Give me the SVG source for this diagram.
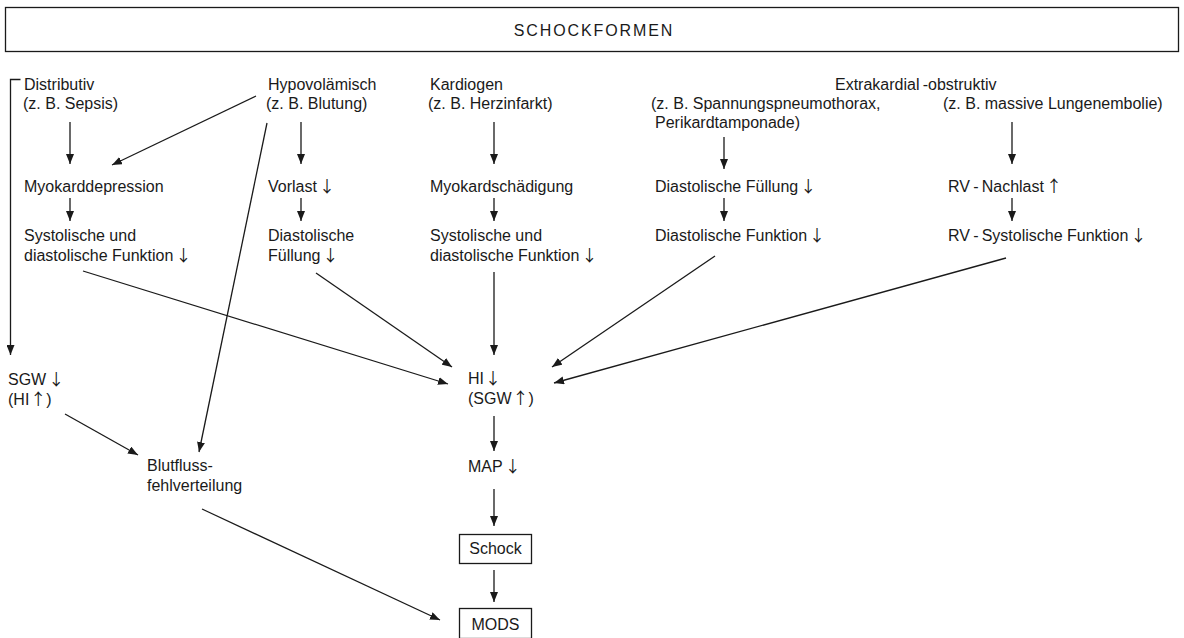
<svg xmlns="http://www.w3.org/2000/svg" width="1184" height="638" viewBox="0 0 1184 638">
  <style>
    text { font-family: "Liberation Sans", Arial, sans-serif; font-size: 16px; fill: #1a1a1a; }
    .ar { font-family: "Noto Sans CJK SC", "DejaVu Sans", sans-serif; font-size: 16px; }
    .title { font-size: 16px; letter-spacing: 1.9px; text-anchor: middle; }
    .mid { text-anchor: middle; }
    .box { fill: #fff; stroke: #1a1a1a; stroke-width: 1.3; }
    .conn path { fill: none; stroke: #1a1a1a; stroke-width: 1.3; }
  </style>
  <defs>
    <marker id="arrow" viewBox="0 0 10 8" refX="10" refY="4" markerWidth="10" markerHeight="8" markerUnits="userSpaceOnUse" orient="auto">
      <path d="M0,0 L10,4 L0,8 z" fill="#1a1a1a"/>
    </marker>
  </defs>
  <rect width="1184" height="638" fill="#fff"/>

  <!-- header -->
  <g id="schockformen">
    <rect class="box" x="5.5" y="7.5" width="1173" height="44"/>
    <text class="title" x="594" y="36">SCHOCKFORMEN</text>
  </g>

  <!-- shock types -->
  <g id="distributiv">
    <text x="24" y="90">Distributiv</text>
    <text x="23" y="109">(z. B. Sepsis)</text>
  </g>
  <g id="hypovolaemisch">
    <text x="268" y="90">Hypovolämisch</text>
    <text x="266" y="109">(z. B. Blutung)</text>
  </g>
  <g id="kardiogen">
    <text x="430" y="90">Kardiogen</text>
    <text x="428" y="109">(z. B. Herzinfarkt)</text>
  </g>
  <g id="extrakardial">
    <text x="835" y="90">Extrakardial&#8201;-obstruktiv</text>
  </g>
  <g id="spannungspneumothorax">
    <text x="651" y="109">(z. B. Spannungspneumothorax,</text>
    <text x="655" y="128">Perikardtamponade)</text>
  </g>
  <g id="lungenembolie">
    <text x="943" y="109">(z. B. massive Lungenembolie)</text>
  </g>

  <!-- intermediate effects -->
  <g id="myokarddepression">
    <text x="24" y="192">Myokarddepression</text>
  </g>
  <g id="funktion-distributiv">
    <text x="24" y="241">Systolische und</text>
    <text x="24" y="261">diastolische Funktion<tspan class="ar" dx="2">↓</tspan></text>
  </g>
  <g id="vorlast">
    <text x="268" y="192">Vorlast<tspan class="ar" dx="2">↓</tspan></text>
  </g>
  <g id="fuellung-hypovolaemisch">
    <text x="268" y="241">Diastolische</text>
    <text x="268" y="261">Füllung<tspan class="ar" dx="2">↓</tspan></text>
  </g>
  <g id="myokardschaedigung">
    <text x="430" y="192">Myokardschädigung</text>
  </g>
  <g id="funktion-kardiogen">
    <text x="430" y="241">Systolische und</text>
    <text x="430" y="261">diastolische Funktion<tspan class="ar" dx="2">↓</tspan></text>
  </g>
  <g id="fuellung-extrakardial">
    <text x="655" y="192">Diastolische Füllung<tspan class="ar" dx="2">↓</tspan></text>
  </g>
  <g id="funktion-extrakardial">
    <text x="655" y="241">Diastolische Funktion<tspan class="ar" dx="2">↓</tspan></text>
  </g>
  <g id="rv-nachlast">
    <text x="948" y="192">RV&#8201;-&#8201;Nachlast<tspan class="ar" dx="2">↑</tspan></text>
  </g>
  <g id="rv-funktion">
    <text x="948" y="241">RV&#8201;-&#8201;Systolische Funktion<tspan class="ar" dx="2">↓</tspan></text>
  </g>

  <!-- hemodynamics and outcome -->
  <g id="sgw">
    <text x="8" y="385">SGW<tspan class="ar" dx="2">↓</tspan></text>
    <text x="8" y="405">(HI<tspan class="ar" dx="1">↑</tspan>)</text>
  </g>
  <g id="hi">
    <text x="468" y="384">HI<tspan class="ar" dx="1">↓</tspan></text>
    <text x="468" y="404">(SGW<tspan class="ar" dx="1">↑</tspan>)</text>
  </g>
  <g id="blutfluss">
    <text x="147" y="471">Blutfluss-</text>
    <text x="147" y="491">fehlverteilung</text>
  </g>
  <g id="map">
    <text x="468" y="472">MAP<tspan class="ar" dx="2">↓</tspan></text>
  </g>
  <g id="schock">
    <rect class="box" x="459.5" y="534.5" width="72" height="29"/>
    <text class="mid" x="495.5" y="554">Schock</text>
  </g>
  <g id="mods">
    <rect class="box" x="459.5" y="608.5" width="72" height="30"/>
    <text class="mid" x="495.5" y="630">MODS</text>
  </g>

  <!-- connectors -->
  <g id="connectors" class="conn">
    <path d="M20.5,79.5 H10.5 V355" marker-end="url(#arrow)"/>
    <path d="M70,122 V164" marker-end="url(#arrow)"/>
    <path d="M256,96 L112,165" marker-end="url(#arrow)"/>
    <path d="M267,123 L199,452" marker-end="url(#arrow)"/>
    <path d="M301,122 V164" marker-end="url(#arrow)"/>
    <path d="M70,198 V221" marker-end="url(#arrow)"/>
    <path d="M301,198 V221" marker-end="url(#arrow)"/>
    <path d="M494,122 V164" marker-end="url(#arrow)"/>
    <path d="M494,198 V221" marker-end="url(#arrow)"/>
    <path d="M724,137 V169" marker-end="url(#arrow)"/>
    <path d="M724,198 V221" marker-end="url(#arrow)"/>
    <path d="M1012,122 V164" marker-end="url(#arrow)"/>
    <path d="M1012,198 V221" marker-end="url(#arrow)"/>
    <path d="M83,271 L448,384" marker-end="url(#arrow)"/>
    <path d="M316,273 L452,367" marker-end="url(#arrow)"/>
    <path d="M494,272 V355" marker-end="url(#arrow)"/>
    <path d="M715,256 L552,367" marker-end="url(#arrow)"/>
    <path d="M1006,258 L554,383" marker-end="url(#arrow)"/>
    <path d="M65,414 L138,455" marker-end="url(#arrow)"/>
    <path d="M202,509 L440,620" marker-end="url(#arrow)"/>
    <path d="M494,416 V451" marker-end="url(#arrow)"/>
    <path d="M494,489 V526" marker-end="url(#arrow)"/>
    <path d="M494,570 V602" marker-end="url(#arrow)"/>
  </g>
</svg>
